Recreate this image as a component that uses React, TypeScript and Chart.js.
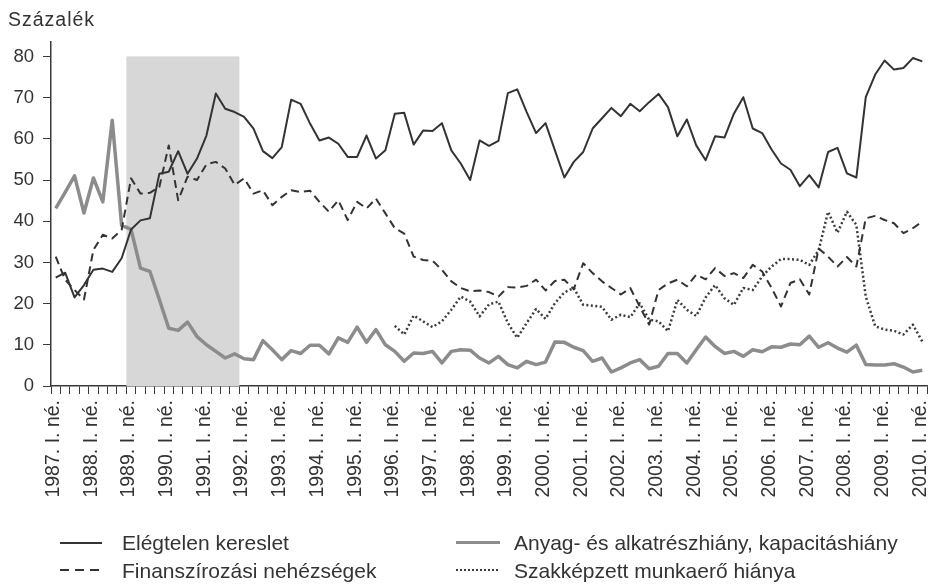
import React, { useEffect, useRef } from 'react';
import { Chart, registerables } from 'chart.js';

Chart.register(...registerables);

// ---- Data -----------------------------------------------------------
const years = [1987, 1988, 1989, 1990, 1991, 1992, 1993, 1994, 1995, 1996, 1997, 1998,
  1999, 2000, 2001, 2002, 2003, 2004, 2005, 2006, 2007, 2008, 2009, 2010];
const quarterNames = ['I.', 'II.', 'III.', 'IV.'];
const quartersInLastYear = 1;

const elegtelenKereslet = [
  26.3, 27.5, 21.5, 24.5, 28.2, 28.5, 27.7, 31, 38, 40.2, 40.7, 51.5, 52, 57, 51.5, 55.2,
  60.8, 71, 67.3, 66.5, 65.3, 62.5, 57, 55.3, 58, 69.5, 68.5, 63.7, 59.6, 60.3, 58.8, 55.6,
  55.6, 60.8, 55.2, 57.2, 66.1, 66.3, 58.6, 62, 61.9, 63.8, 57.2, 54, 50, 59.6, 58.3, 59.5,
  71.1, 72, 66.5, 61.4, 63.8, 57.2, 50.6, 54.4, 56.8, 62.5, 65, 67.5, 65.5, 68.5, 66.7, 68.9,
  70.9, 67.7, 60.6, 64.7, 58.4, 54.8, 60.6, 60.3, 66.1, 70.1, 62.5, 61.4, 57.4, 54, 52.5, 48.5,
  51.2, 48.2, 56.8, 57.8, 51.6, 50.6, 70.1, 75.6, 79, 76.8, 77.2, 79.6, 78.8,
];

const finanszirozasi = [
  31.4, 25.8, 23.3, 21, 33, 36.7, 35.8, 37.9, 50.4, 46.7, 46.9, 48.3, 58.4, 45.1, 50.8, 50,
  53.8, 54.4, 52.8, 48.8, 50.4, 46.7, 47.5, 43.9, 45.9, 47.5, 47.1, 47.4, 44.7, 42.3, 45.1, 40.3,
  44.7, 43.1, 45.5, 41.9, 38.3, 37, 31.4, 30.6, 30.4, 28.2, 25.4, 23.8, 23, 23.2, 22.8, 21.7,
  24, 23.9, 24.3, 25.8, 23.2, 25.5, 25.8, 23.5, 29.8, 27.4, 25.4, 23.8, 22.2, 23.8, 19.3, 14.9,
  23.3, 24.9, 25.8, 24.2, 27, 25.9, 28.6, 26.7, 27.4, 26.2, 29.4, 27.8, 23.8, 19.3, 25, 25.9,
  22.2, 33.4, 31.4, 29, 31.3, 29, 40.7, 41.3, 40.3, 39.5, 37.1, 38.3, 39.9,
];

const anyagKapacitas = [
  43.1, 47, 51, 42, 50.5, 44.7, 64.5, 39, 38, 28.6, 27.8, 21, 14, 13.5, 15.5, 12,
  10, 8.4, 6.8, 7.8, 6.6, 6.4, 11, 8.8, 6.4, 8.6, 7.9, 9.9, 9.9, 7.8, 11.7, 10.6,
  14.3, 10.6, 13.7, 10, 8.4, 6, 8, 7.9, 8.4, 5.6, 8.4, 8.8, 8.7, 6.8, 5.6, 7.2,
  5.2, 4.4, 6, 5.2, 5.8, 10.7, 10.6, 9.4, 8.6, 6, 6.8, 3.4, 4.4, 5.6, 6.4, 4.2,
  4.8, 7.9, 7.9, 5.6, 8.8, 11.9, 9.6, 7.9, 8.4, 7.2, 8.8, 8.3, 9.5, 9.4, 10.2, 10,
  12.1, 9.4, 10.5, 9.2, 8.2, 9.9, 5.2, 5.1, 5.1, 5.4, 4.6, 3.4, 3.8,
];

const szakkepzett = [
  null, null, null, null, null, null, null, null, null, null, null, null, null, null, null, null,
  null, null, null, null, null, null, null, null, null, null, null, null, null, null, null, null,
  null, null, null, null, 14.6, 12.5, 17.1, 15.7, 14.3, 15.7, 18.5, 21.7, 20.5, 16.9, 19.8, 20.5,
  15.3, 11.7, 15.3, 18.7, 16.3, 20.1, 22.7, 23.8, 19.7, 19.5, 19.2, 16.1, 17.3, 16.7, 20.1, 16.1,
  15.7, 13.3, 20.9, 18.5, 17, 21.5, 24.5, 21.3, 19.7, 23.8, 23.3, 26.6, 29, 30.8, 30.8, 30.6,
  29.4, 33, 42.3, 37.2, 42.3, 39.1, 21.7, 14.5, 13.7, 13.4, 12.5, 14.9, 10.8,
];

const yTickValues = [0, 10, 20, 30, 40, 50, 60, 70, 80];
const shadeFrom = '1989. I. né.';
const shadeTo = '1991. IV. né.';

const seriesNames = [
  'Elégtelen kereslet',
  'Anyag- és alkatrészhiány, kapacitáshiány',
  'Finanszírozási nehézségek',
  'Szakképzett munkaerő hiánya',
];

// Category labels built from the year and quarter lists
const categories: string[] = [];
years.forEach((y, yi) => {
  const n = yi === years.length - 1 ? quartersInLastYear : 4;
  for (let q = 0; q < n; q++) categories.push(`${y}. ${quarterNames[q]} né.`);
});

const FONT = "'Liberation Sans', Arial, Helvetica, sans-serif";
const AXIS = '#3a3a3a';
const DARK = '#333333';
const GREY = '#8c8c8c';

const shadePlugin = {
  id: 'shadeBand',
  beforeDatasetsDraw(chart: any) {
    const x = chart.scales.x;
    const y = chart.scales.y;
    const i0 = categories.indexOf(shadeFrom);
    const i1 = categories.indexOf(shadeTo);
    const half = (x.getPixelForValue(1) - x.getPixelForValue(0)) / 2;
    const left = x.getPixelForValue(i0) - half;
    const right = x.getPixelForValue(i1) + half;
    const top = y.getPixelForValue(80);
    const bottom = y.getPixelForValue(0);
    const ctx = chart.ctx;
    ctx.save();
    ctx.fillStyle = '#d7d7d7';
    ctx.fillRect(left, top, right - left, bottom - top);
    ctx.restore();
  },
};

export default function App() {
  const ref = useRef<HTMLCanvasElement | null>(null);

  useEffect(() => {
    if (!ref.current) return;
    const chart = new Chart(ref.current, {
      type: 'line',
      data: {
        labels: categories,
        datasets: [
          {
            label: seriesNames[0],
            data: elegtelenKereslet,
            borderColor: DARK,
            borderWidth: 2,
          },
          {
            label: seriesNames[2],
            data: finanszirozasi,
            borderColor: DARK,
            borderWidth: 2,
            borderDash: [8, 5],
          },
          {
            label: seriesNames[3],
            data: szakkepzett,
            borderColor: '#3c3c3c',
            borderWidth: 2.5,
            borderDash: [2, 2.5],
          },
          {
            label: seriesNames[1],
            data: anyagKapacitas,
            borderColor: GREY,
            borderWidth: 3.5,
          },
        ],
      },
      options: {
        animation: false,
        responsive: false,
        maintainAspectRatio: false,
        layout: { padding: { top: 42, right: 2, left: 0, bottom: 0 } },
        plugins: {
          legend: { display: false },
          tooltip: { enabled: false },
        },
        elements: {
          point: { radius: 0 },
          line: { tension: 0, borderJoinStyle: 'round' as any },
        },
        scales: {
          x: {
            type: 'category',
            offset: true,
            grid: {
              display: true,
              offset: true,
              drawOnChartArea: false,
              drawTicks: true,
              tickLength: 8,
              color: AXIS,
              lineWidth: 1,
            },
            border: { display: true, color: AXIS, width: 1.5 },
            ticks: {
              autoSkip: false,
              maxRotation: 90,
              minRotation: 90,
              padding: 6,
              labelOffset: -2,
              color: '#333',
              font: { family: FONT, size: 19.5 },
              callback: (_v: any, i: number) => (i % 4 === 0 ? categories[i] : ''),
            },
            afterFit: (a: any) => {
              a.height = 198;
              a.paddingLeft = 0;
              a.paddingRight = 0;
            },
          },
          y: {
            min: 0,
            max: 83.5,
            afterBuildTicks: (a: any) => {
              a.ticks = yTickValues.map((v) => ({ value: v }));
            },
            grid: {
              display: true,
              drawOnChartArea: false,
              drawTicks: true,
              tickLength: 8,
              color: AXIS,
              lineWidth: 1,
            },
            border: { display: true, color: AXIS, width: 1.5 },
            ticks: {
              padding: 9,
              color: '#333',
              font: { family: FONT, size: 18.5 },
            },
            afterFit: (a: any) => {
              a.width = 51;
              a.paddingTop = 0;
              a.paddingBottom = 0;
            },
          },
        },
      },
      plugins: [shadePlugin],
    });
    return () => chart.destroy();
  }, []);

  const textStyle: React.CSSProperties = {
    position: 'absolute',
    fontFamily: FONT,
    fontSize: 21,
    lineHeight: '21px',
    color: '#333',
    whiteSpace: 'nowrap',
  };
  const sample = (left: number, top: number, width: number, css: React.CSSProperties) => (
    <div style={{ position: 'absolute', left, top, width, ...css }} />
  );

  return (
    <div style={{ position: 'absolute', left: 0, top: 0, width: 929, height: 584, background: '#fff' }}>
      <canvas ref={ref} width={929} height={584} style={{ position: 'absolute', left: 0, top: 0, width: 929, height: 584 }} />
      <div style={{ ...textStyle, left: 8, top: 10, fontSize: 19.5, lineHeight: '19.5px', letterSpacing: 1 }}>Százalék</div>

      {sample(60, 541.5, 42, { height: 2, background: DARK })}
      <div style={{ ...textStyle, left: 122, top: 532 }}>{seriesNames[0]}</div>

      {sample(456, 540.5, 44, { height: 3.5, background: GREY })}
      <div style={{ ...textStyle, left: 514, top: 532 }}>{seriesNames[1]}</div>

      {sample(60, 569, 42, { height: 2, background: `repeating-linear-gradient(to right, ${DARK} 0 9px, transparent 9px 15px)` })}
      <div style={{ ...textStyle, left: 122, top: 560 }}>{seriesNames[2]}</div>

      {sample(456, 569, 44, { height: 2, background: `repeating-linear-gradient(to right, #3c3c3c 0 2px, transparent 2px 4px)` })}
      <div style={{ ...textStyle, left: 514, top: 560 }}>{seriesNames[3]}</div>
    </div>
  );
}
